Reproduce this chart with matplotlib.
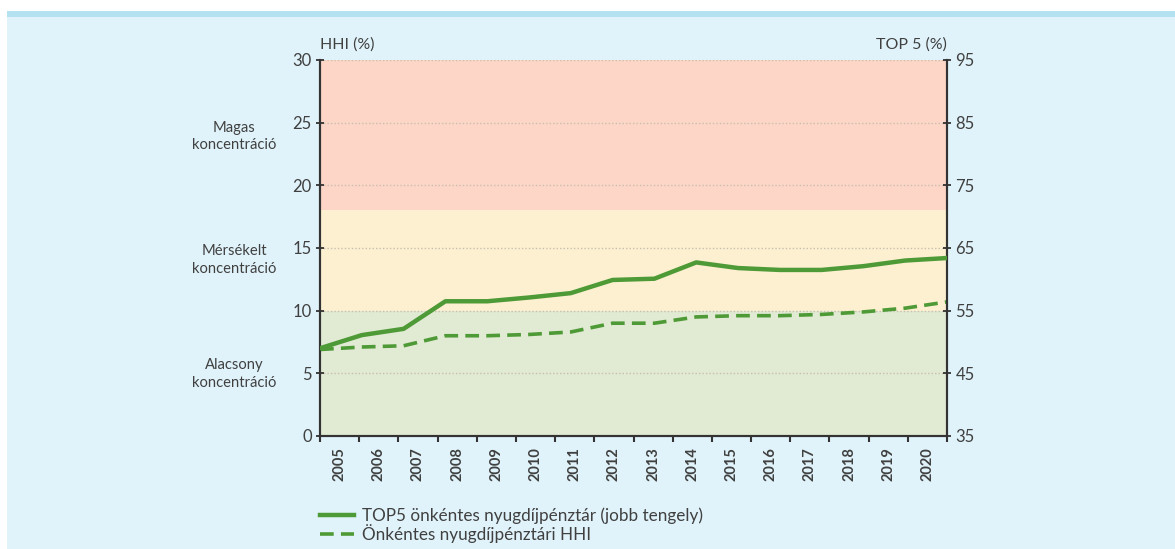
import numpy as np
import matplotlib.pyplot as plt
from matplotlib.lines import Line2D
from matplotlib.patches import Rectangle

plt.rcParams['font.family'] = ['Lato', 'DejaVu Sans']
plt.rcParams['font.size'] = 10

# data
years = list(range(2005, 2021))
top5 = [49.0, 51.1, 52.1, 56.5, 56.5, 57.1, 57.8, 59.9, 60.1, 62.7,
        61.8, 61.5, 61.5, 62.1, 63.0, 63.4]
hhi = [6.9, 7.1, 7.2, 8.0, 8.0, 8.1, 8.3, 9.0, 9.0, 9.5,
       9.6, 9.6, 9.7, 9.9, 10.2, 10.7]

bands = [(0, 10), (10, 18), (18, 30)]
band_colors = ['#e1ead3', '#fdf0d1', '#fdd6c7']
band_labels = ['Alacsony\nkoncentráció', 'Mérsékelt\nkoncentráció', 'Magas\nkoncentráció']
band_label_y = [4.95, 14.05, 23.9]

legend_labels = ['TOP5 önkéntes nyugdíjpénztár (jobb tengely)',
                 'Önkéntes nyugdíjpénztári HHI']

green = '#4e9a36'
txt = '#404040'
bg = '#e0f3fa'

fig = plt.figure(figsize=(11.75, 5.49), dpi=100)
fig.patch.set_facecolor('white')
# light blue panel with a darker strip on top
fig.add_artist(Rectangle((7 / 1175, 0), 1, 1 - 11 / 549, transform=fig.transFigure,
                         facecolor=bg, edgecolor='none', zorder=-2))
fig.add_artist(Rectangle((7 / 1175, 1 - 17 / 549), 1, 6 / 549, transform=fig.transFigure,
                         facecolor='#b5e2f0', edgecolor='none', zorder=-1))

ax = fig.add_axes([320 / 1175, 113 / 549, 627 / 1175, 376 / 549])
ax2 = ax.twinx()

for (lo, hi), c in zip(bands, band_colors):
    ax.axhspan(lo, hi, color=c, zorder=0, lw=0)
for y in range(5, 31, 5):
    ax.axhline(y, color='#c8bfae', lw=1, ls=(0, (1, 1.5)), zorder=1)

ax.plot(years, hhi, color=green, lw=2.6, ls=(0, (3.8, 2.0)), zorder=3)
ax2.plot(years, top5, color=green, lw=3.2, zorder=3)

ax.set_xlim(2005, 2020)
ax.set_ylim(0, 30)
ax2.set_ylim(35, 95)
ax.set_yticks(range(0, 31, 5))
ax2.set_yticks(range(35, 96, 10))

# category ticks: edges get marks, labels sit in the middle
n = len(years)
step = (years[-1] - years[0]) / n
ax.set_xticks([years[0] + k * step for k in range(n + 1)])
ax.set_xticklabels([])
ax.set_xticks([years[0] + (k + 0.5) * step for k in range(n)], minor=True)
ax.set_xticklabels([str(y) for y in years], minor=True, rotation=90, fontsize=10.5,
                   color=txt, fontweight='bold')
ax.tick_params(axis='x', which='minor', length=0, pad=8)
ax.tick_params(axis='x', which='major', direction='out', length=4, width=1.5, color='#333333')
ax.tick_params(axis='y', direction='inout', length=6, width=1.3, color='#333333',
               labelsize=12, labelcolor=txt, pad=3)
ax2.tick_params(axis='y', direction='inout', length=6, width=1.3, color='#333333',
                labelsize=12, labelcolor=txt, pad=3)

ax.patch.set_alpha(0)
ax2.patch.set_alpha(0)
for a in (ax, ax2):
    a.spines['top'].set_visible(False)
    for s in ('left', 'right', 'bottom'):
        a.spines[s].set_color('#333333')
        a.spines[s].set_linewidth(1.5)

fig.text(320 / 1175, 1 - 45 / 549, 'HHI (%)', ha='left', va='center', fontsize=11.5, color=txt)
fig.text(947 / 1175, 1 - 45 / 549, 'TOP 5 (%)', ha='right', va='center', fontsize=11.5, color=txt)

for lab, y in zip(band_labels, band_label_y):
    ax.text(-0.137, y, lab, transform=ax.get_yaxis_transform(), ha='center', va='center',
            fontsize=10.6, color=txt, linespacing=1.3)

handles = [Line2D([0], [0], color=green, lw=3.2),
           Line2D([0], [0], color=green, lw=2.6, ls=(0, (3.8, 2.0)))]
fig.legend(handles, legend_labels, loc='upper left', bbox_to_anchor=(320 / 1175, 1 - 507 / 549),
           frameon=False, fontsize=12.3, handlelength=2.0, handletextpad=0.45,
           labelspacing=0.05, labelcolor=txt, borderaxespad=0, borderpad=0)

plt.savefig('out.png', dpi=100, facecolor=fig.get_facecolor())
